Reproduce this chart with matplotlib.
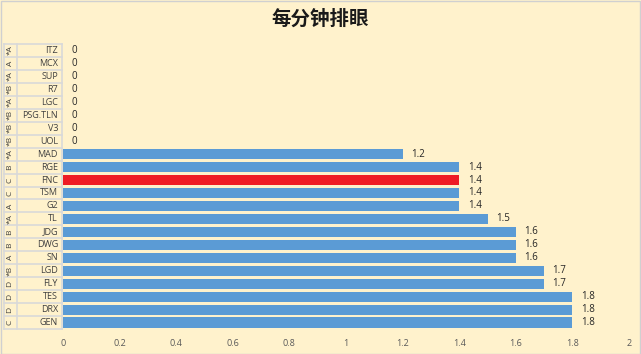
import matplotlib
matplotlib.use("Agg")
import matplotlib.pyplot as plt
import matplotlib.transforms as mtransforms
import numpy as np

plt.rcParams['font.family'] = ['Open Sans', 'Noto Sans CJK SC', 'DejaVu Sans']

# top to bottom, as in the chart
teams = ["ITZ", "MCX", "SUP", "R7", "LGC", "PSG.TLN", "V3", "UOL", "MAD", "RGE", "FNC",
         "TSM", "G2", "TL", "JDG", "DWG", "SN", "LGD", "FLY", "TES", "DRX", "GEN"]
groups = ["*A", "A", "*A", "*B", "*A", "*B", "*B", "*B", "*A", "B", "C",
          "C", "A", "*A", "B", "B", "A", "*B", "D", "D", "D", "C"]
values = [0, 0, 0, 0, 0, 0, 0, 0, 1.2, 1.4, 1.4,
          1.4, 1.4, 1.5, 1.6, 1.6, 1.6, 1.7, 1.7, 1.8, 1.8, 1.8]
highlight = "FNC"

bg = "#FFF2CC"
blue = "#5B9BD5"
red = "#EE1C25"
grid_c = "#D9D9D9"

W, H = 641, 354
fig = plt.figure(figsize=(W / 100, H / 100), dpi=100, facecolor=bg)
ax = fig.add_axes([63 / W, 1 - 329 / H, (629 - 63) / W, (329 - 44) / H])
ax.set_facecolor(bg)

n = len(teams)
y = np.arange(n)
colors = [red if t == highlight else blue for t in teams]
ax.barh(y, values, height=0.78, color=colors)
for yi, v in zip(y, values):
    ax.text(v + 0.03, yi, f"{v:g}", va="center", ha="left", fontsize=7, color="#262626")

ax.set_xlim(0, 2)
ax.set_ylim(n - 0.5, -0.5)
ax.set_xticks(np.arange(0, 2.01, 0.2))
ax.set_xticklabels([f"{t:g}" for t in np.arange(0, 2.01, 0.2)])
ax.tick_params(axis="x", length=0, labelsize=6.5, labelcolor="#595959", pad=7)
ax.set_yticks([])
for s in ax.spines.values():
    s.set_visible(False)

# two-level category axis on the left
tr = mtransforms.blended_transform_factory(fig.transFigure, ax.transData)
for yi, (t, g) in enumerate(zip(teams, groups)):
    ax.text(58 / W, yi, t, transform=tr, ha="right", va="center", fontsize=6.5, color="#404040")
    ax.text(10 / W, yi, g, transform=tr, ha="center", va="center", fontsize=6,
            color="#404040", rotation=90)
for b in np.arange(-0.5, n, 1):
    ax.plot([4 / W, 62 / W], [b, b], transform=tr, color=grid_c, lw=1.2, clip_on=False)
for xp in (4, 17, 62):
    ax.plot([xp / W, xp / W], [-0.5, n - 0.5], transform=tr, color=grid_c, lw=1.2, clip_on=False)

fig.text(0.5, 1 - 19 / H, "每分钟排眼", ha="center", va="center", fontsize=14,
         family=["Noto Sans CJK SC"], fontweight="bold", color="#1a1a1a")

# outer frame
fig.patches.append(plt.Rectangle((0.5 / W, 0.5 / H), 1 - 1.5 / W, 1 - 1.5 / H,
                                 transform=fig.transFigure, fill=False, ec="#D0D0D0", lw=1))

fig.savefig("out.png", dpi=100, facecolor=bg)
